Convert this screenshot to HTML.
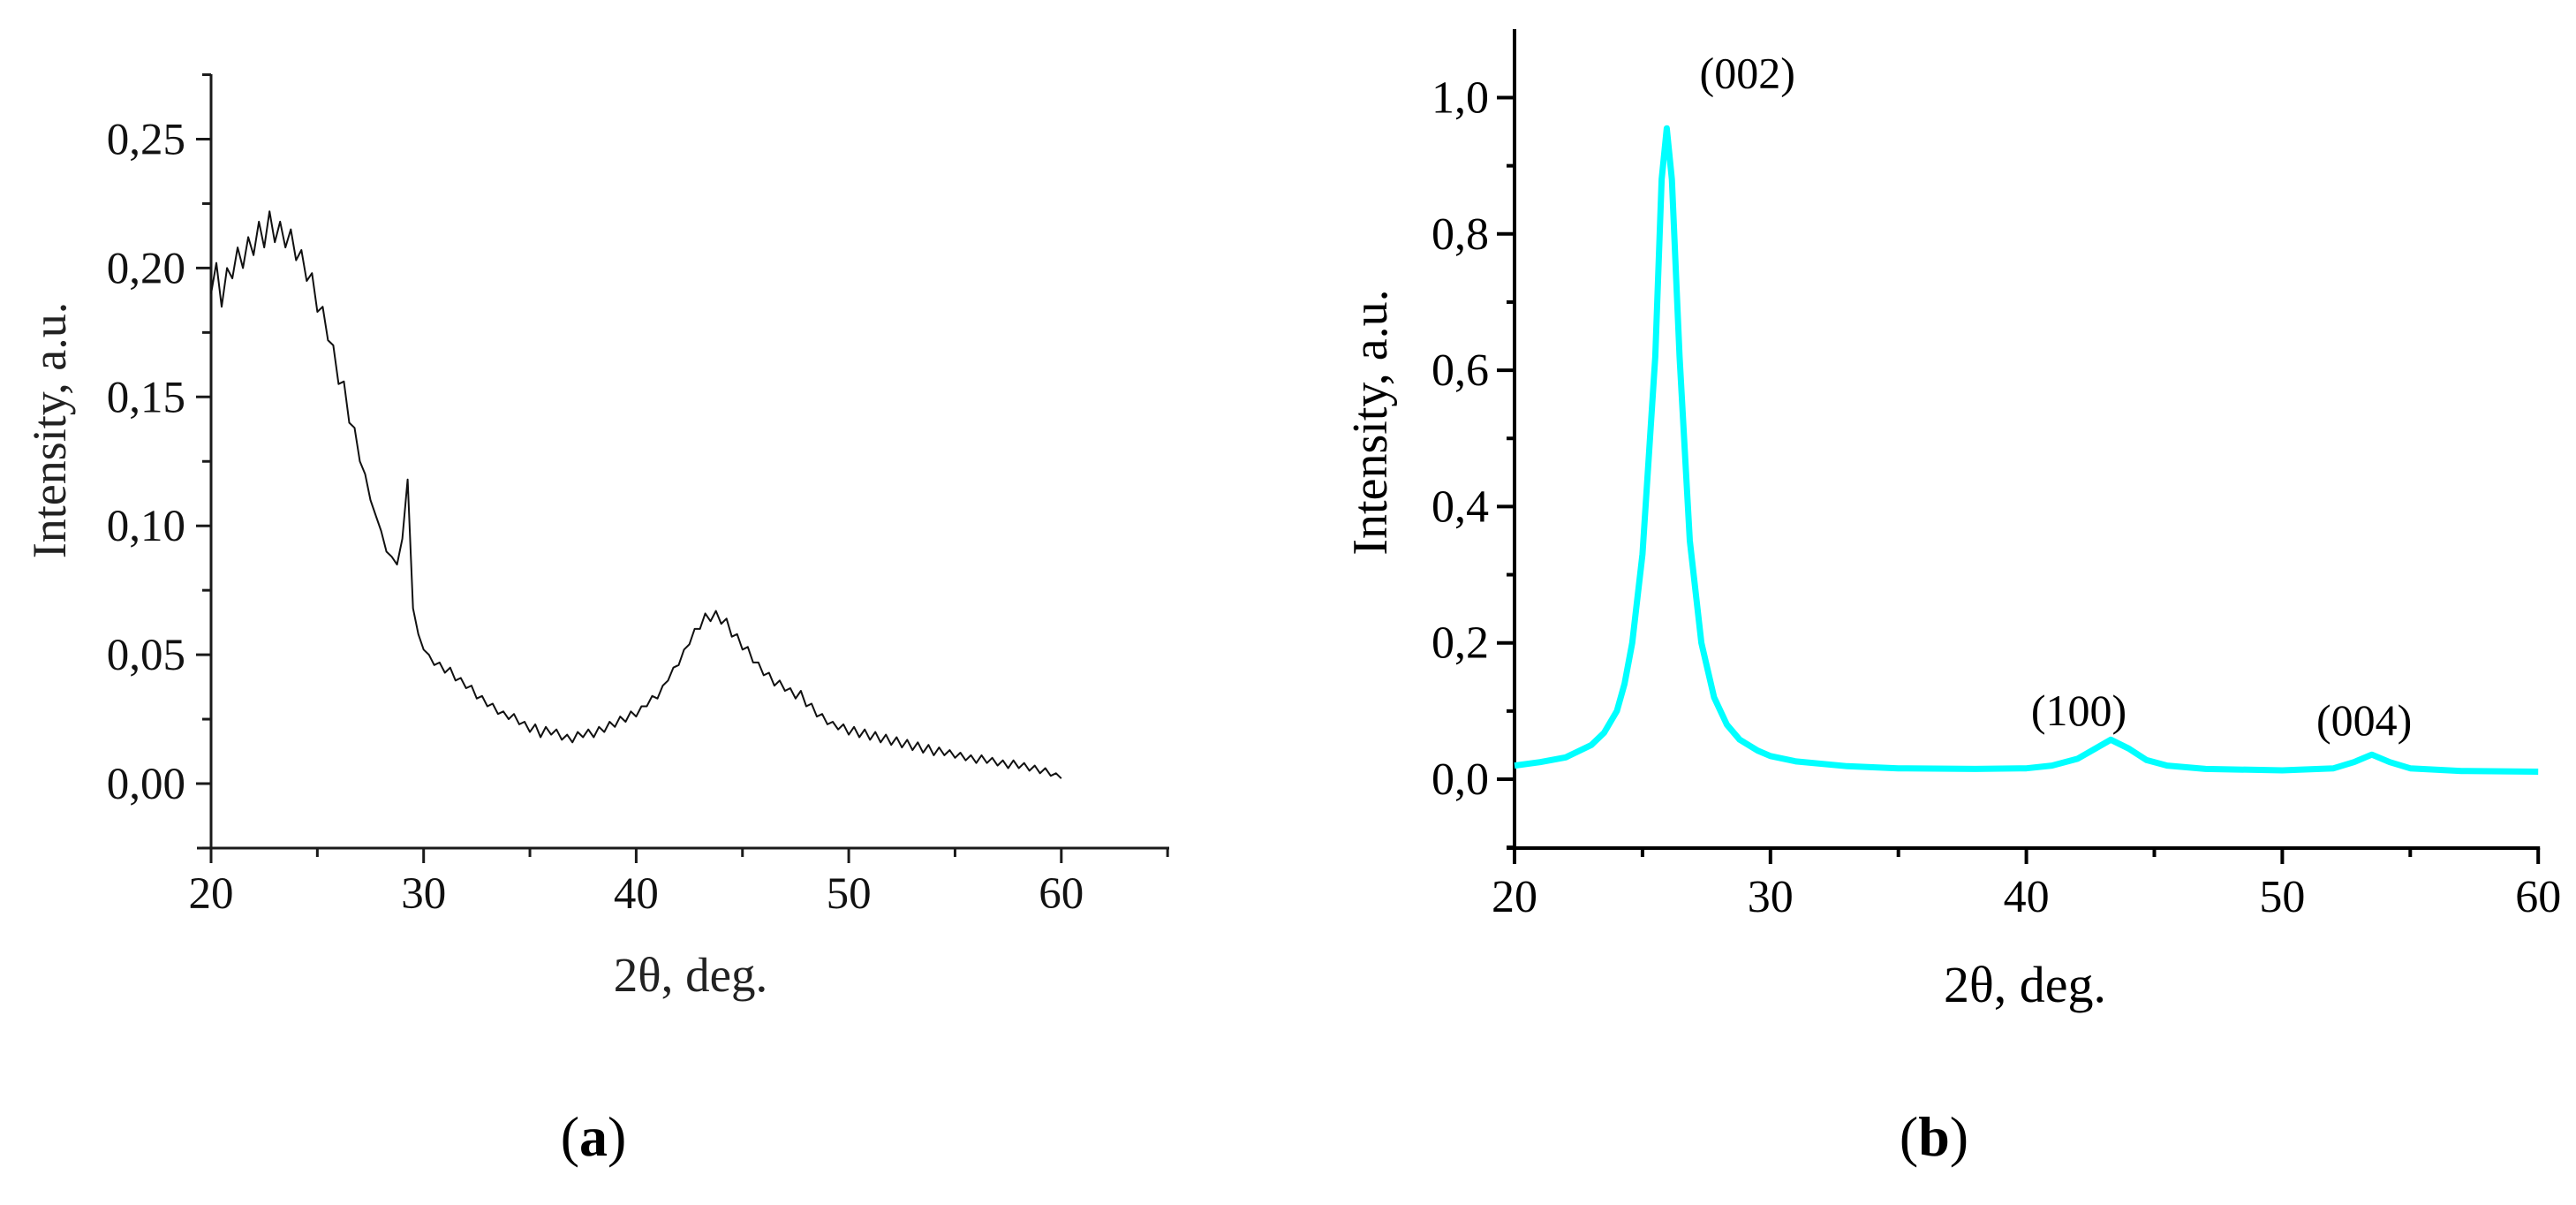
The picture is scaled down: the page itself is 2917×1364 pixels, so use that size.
<!DOCTYPE html>
<html><head><meta charset="utf-8">
<style>
html,body{margin:0;padding:0;background:#fff;}
svg{display:block;font-family:"Liberation Serif","DejaVu Serif",serif;}
</style></head>
<body>
<svg id="fig" width="2917" height="1364" viewBox="0 0 2917 1364" xmlns="http://www.w3.org/2000/svg">
<rect width="2917" height="1364" fill="#fff"/>
<g id="pa"></g>
<g id="pb"></g>
</svg>
<script>
// ---- Panel (a) data ----
const aStart = 20;
const aStep = 0.25;
const aValues = [.190,.202,.185,.200,.196,.208,.200,.212,.205,.218,.208,.222,.210,.218,.208,.215,.203,.207,.195,.198,
.183,.185,.172,.170,.155,.156,.140,.138,.125,.120,.110,.104,.098,.090,.088,.085,.095,.118,.068,.058,
.052,.050,.046,.047,.043,.045,.040,.041,.037,.038,.033,.034,.030,.031,.027,.028,.025,.027,.023,.024,
.020,.023,.018,.022,.019,.021,.017,.019,.016,.020,.018,.021,.018,.022,.020,.024,.022,.026,.024,.028,
.026,.030,.030,.034,.033,.038,.040,.045,.046,.052,.054,.060,.060,.066,.063,.067,.062,.064,.057,.058,
.052,.053,.047,.047,.042,.043,.038,.040,.036,.037,.033,.036,.030,.031,.026,.027,.023,.024,.021,.023,
.019,.022,.018,.021,.017,.020,.016,.019,.015,.018,.014,.017,.013,.016,.012,.015,.011,.014,.011,.013,
.010,.012,.009,.011,.008,.011,.008,.010,.007,.009,.006,.009,.006,.008,.005,.007,.004,.006,.003,.004,.002];
const aXTicks = [20,30,40,50,60];
const aYTicks = [0,0.05,0.10,0.15,0.20,0.25];
const aYLabels = ["0,00","0,05","0,10","0,15","0,20","0,25"];

// ---- Panel (b) data ----
const bAngles = [20,21,22,23,23.5,24,24.3,24.6,25.0,25.5,25.75,25.95,26.15,26.45,26.85,27.3,27.8,28.3,28.8,29.5,30,31,33,35,38,40,41,42,42.7,43.3,44,44.7,45.5,47,50,52,52.8,53.5,54.2,55,57,60];
const bValues = [0.020,0.025,0.032,0.050,0.068,0.10,0.14,0.20,0.33,0.62,0.88,0.955,0.88,0.62,0.35,0.20,0.12,0.08,0.058,0.042,0.034,0.026,0.019,0.016,0.015,0.016,0.020,0.030,0.045,0.058,0.045,0.028,0.020,0.015,0.013,0.016,0.025,0.036,0.025,0.016,0.012,0.011];
const bXTicks = [20,30,40,50,60];
const bYTicks = [0,0.2,0.4,0.6,0.8,1.0];
const bYLabels = ["0,0","0,2","0,4","0,6","0,8","1,0"];
const bPeakLabels = ["(002)","(100)","(004)"];
const bPeakAngles = [29.1,42.05,53.2];
const bPeakHeights = [1.014,0.079,0.065];

const NS = "http://www.w3.org/2000/svg";
function mk(parent, tag, attrs){
  const e = document.createElementNS(NS, tag);
  for (const k in attrs) e.setAttribute(k, attrs[k]);
  parent.appendChild(e);
  return e;
}

// ---------- Panel A ----------
(function(){
  const g = document.getElementById('pa');
  const X0=239, PX=24.07, Y0=887, PY=145.9/0.05;
  const xs = v => X0 + (v-20)*PX;
  const ys = v => Y0 - v*PY;
  const col = "#1a1a1a";
  const yAxis = mk(g,'line',{x1:X0,y1:84,x2:X0,y2:960,stroke:col,'stroke-width':3});
  
  
  const xAxis = mk(g,'line',{x1:X0-16,y1:960,x2:1324,y2:960,stroke:col,'stroke-width':3});
  
  
  for (let v=20; v<=65; v+=5){
    const major = v%10===0;
    const t = mk(g,'line',{x1:xs(v),y1:960,x2:xs(v),y2:960+(major?17:10),stroke:col,'stroke-width':3});
    
    
  }
  aXTicks.forEach(v=>{
    const t = mk(g,'text',{x:xs(v),y:1028,'font-size':51,'text-anchor':'middle',fill:'#111'});
    t.textContent = v;
    
    
  });
  for (let k=-1; k<=11; k++){
    const v = k*0.025;
    const major = k%2===0;
    const t = mk(g,'line',{x1:X0-(major?17:10),y1:ys(v),x2:X0,y2:ys(v),stroke:col,'stroke-width':3});
    
    
  }
  aYTicks.forEach((v,i)=>{
    const t = mk(g,'text',{x:210,y:ys(v)+17,'font-size':51,'text-anchor':'end',fill:'#111'});
    t.textContent = aYLabels[i];
    
    
  });
  let d='';
  aValues.forEach((v,i)=>{ const a=aStart+i*aStep; d+=(i?'L':'M')+xs(a).toFixed(1)+' '+ys(v).toFixed(1); });
  const line = mk(g,'path',{d:d,fill:'none',stroke:'#111','stroke-width':2,'stroke-linejoin':'round'});
  
  
  const xt = mk(g,'text',{x:782,y:1122,'font-size':55,'text-anchor':'middle',fill:'#222'});
  xt.textContent = '2θ, deg.';
  
  
  const yt = mk(g,'text',{x:0,y:0,'font-size':54,'text-anchor':'middle',fill:'#222',transform:'translate(74,487) rotate(-90)'});
  yt.textContent = 'Intensity, a.u.';
  
  
  const cap = mk(g,'text',{x:672,y:1308,'font-size':64,'text-anchor':'middle',fill:'#000'});
  cap.innerHTML = '(<tspan font-weight="bold">a</tspan>)';
  
  
})();

// ---------- Panel B ----------
(function(){
  const g = document.getElementById('pb');
  const X0=1715, PX=28.98, Y0=882, PY=154.3/0.2;
  const xs = v => X0 + (v-20)*PX;
  const ys = v => Y0 - v*PY;
  const yAxis = mk(g,'line',{x1:X0,y1:33,x2:X0,y2:960,stroke:'#000','stroke-width':4});
  
  
  const xAxis = mk(g,'line',{x1:X0-9,y1:960,x2:xs(60)+2,y2:960,stroke:'#000','stroke-width':4});
  
  
  for (let v=20; v<=60; v+=5){
    const major = v%10===0;
    const t = mk(g,'line',{x1:xs(v),y1:960,x2:xs(v),y2:960+(major?18:10),stroke:'#000','stroke-width':4});
    
    
  }
  bXTicks.forEach(v=>{
    const t = mk(g,'text',{x:xs(v),y:1032,'font-size':52,'text-anchor':'middle',fill:'#000'});
    t.textContent = v;
    
    
  });
  for (let k=-1; k<=10; k++){
    const v = k*0.1;
    const major = k%2===0;
    const t = mk(g,'line',{x1:X0-(major?20:9),y1:ys(v),x2:X0,y2:ys(v),stroke:'#000','stroke-width':4});
    
    
  }
  bYTicks.forEach((v,i)=>{
    const t = mk(g,'text',{x:1686,y:ys(v)+17,'font-size':52,'text-anchor':'end',fill:'#000'});
    t.textContent = bYLabels[i];
    
    
  });
  let d='';
  bAngles.forEach((a,i)=>{ d+=(i?'L':'M')+xs(a).toFixed(1)+' '+ys(bValues[i]).toFixed(1); });
  const line = mk(g,'path',{d:d,fill:'none',stroke:'#00ffff','stroke-width':7,'stroke-linejoin':'round'});
  
  
  bPeakLabels.forEach((s,i)=>{
    const t = mk(g,'text',{x:xs(bPeakAngles[i]),y:ys(bPeakHeights[i]),'font-size':50,'text-anchor':'middle',fill:'#000'});
    t.textContent = s;
    
    
  });
  const xt = mk(g,'text',{x:2293,y:1134,'font-size':58,'text-anchor':'middle',fill:'#000'});
  xt.textContent = '2θ, deg.';
  
  
  const yt = mk(g,'text',{x:0,y:0,'font-size':56,'text-anchor':'middle',fill:'#000',transform:'translate(1570,478) rotate(-90)'});
  yt.textContent = 'Intensity, a.u.';
  
  
  const cap = mk(g,'text',{x:2190,y:1308,'font-size':64,'text-anchor':'middle',fill:'#000'});
  cap.innerHTML = '(<tspan font-weight="bold">b</tspan>)';
  
  
})();
</script>
</body></html>
